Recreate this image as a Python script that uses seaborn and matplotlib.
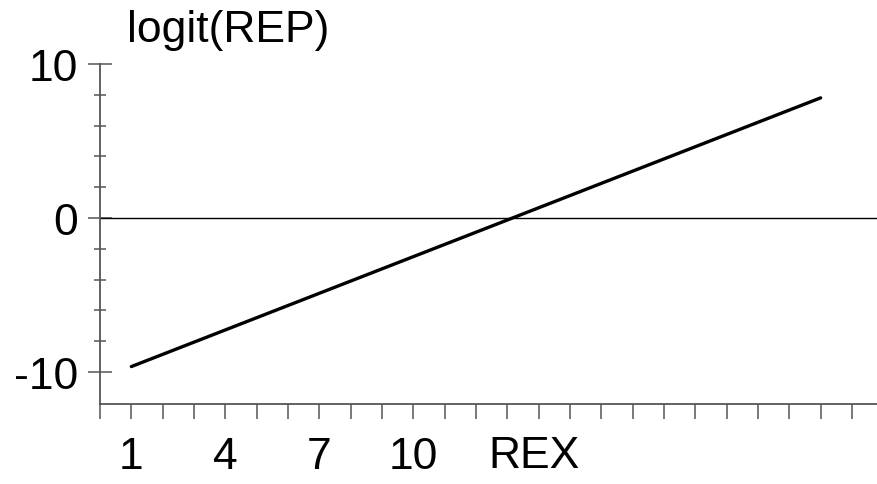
"""Logit(REP) against REX: fitted straight line."""
import matplotlib
matplotlib.use("Agg")
import matplotlib.pyplot as plt
from matplotlib.ticker import FixedLocator
import pandas as pd
import seaborn as sns

# fitted line (endpoints)
rex = [1, 23]
logit_rep = [-9.65, 7.8]

x_ticks = list(range(0, 25))
x_labelled = {1: "1", 4: "4", 7: "7", 10: "10"}
y_major = [-10, 0, 10]
y_minor = [-8, -6, -4, -2, 2, 4, 6, 8]

SANS = ["Liberation Sans", "DejaVu Sans"]
AXIS_GREY = "#555555"
TICK_SIZE = 32


def main() -> None:
    sns.set_theme(style="white")
    plt.rcParams["font.family"] = SANS
    plt.rcParams["text.color"] = "black"

    df = pd.DataFrame({"REX": rex, "logit": logit_rep})

    fig = plt.figure(figsize=(8.77, 4.85), dpi=100)
    ax = fig.add_axes([100 / 877, 80 / 485, 777 / 877, 340 / 485])

    ax.axhline(0, color="black", linewidth=1.0)
    sns.lineplot(data=df, x="REX", y="logit", ax=ax, color="black", linewidth=2.4)

    ax.set_xlim(0, 24.8)
    ax.set_ylim(-12.08, 10)

    for side in ("top", "right"):
        ax.spines[side].set_visible(False)
    for side in ("left", "bottom"):
        ax.spines[side].set_color(AXIS_GREY)
        ax.spines[side].set_linewidth(1.3)

    # y axis: crossing ticks, majors labelled
    ax.yaxis.set_major_locator(FixedLocator(y_major))
    ax.yaxis.set_minor_locator(FixedLocator(y_minor))
    ax.tick_params(axis="y", which="major", direction="inout", length=17,
                   width=1.1, color=AXIS_GREY, pad=7, labelsize=TICK_SIZE,
                   left=True, labelcolor="black")
    ax.tick_params(axis="y", which="minor", direction="inout", length=8.6,
                   width=1.1, color=AXIS_GREY, left=True)
    ax.set_yticklabels([str(v) for v in y_major])

    # x axis: ticks at every unit, only a few labelled
    ax.set_xticks(x_ticks)
    ax.set_xticklabels([x_labelled.get(t, "") for t in x_ticks])
    ax.tick_params(axis="x", which="major", direction="out", length=11,
                   width=1.1, color=AXIS_GREY, pad=12, labelsize=TICK_SIZE,
                   bottom=True, labelcolor="black")

    ax.set_xlabel("REX", fontsize=TICK_SIZE, va="top", color="black")
    ax.xaxis.set_label_coords(434 / 777, -0.09)
    ax.set_ylabel("")

    fig.text(127 / 877, (485 - 42) / 485, "logit(REP)", fontsize=32,
             ha="left", va="baseline", color="black")

    fig.savefig("out.png", dpi=100)
    plt.close(fig)


if __name__ == "__main__":
    main()
